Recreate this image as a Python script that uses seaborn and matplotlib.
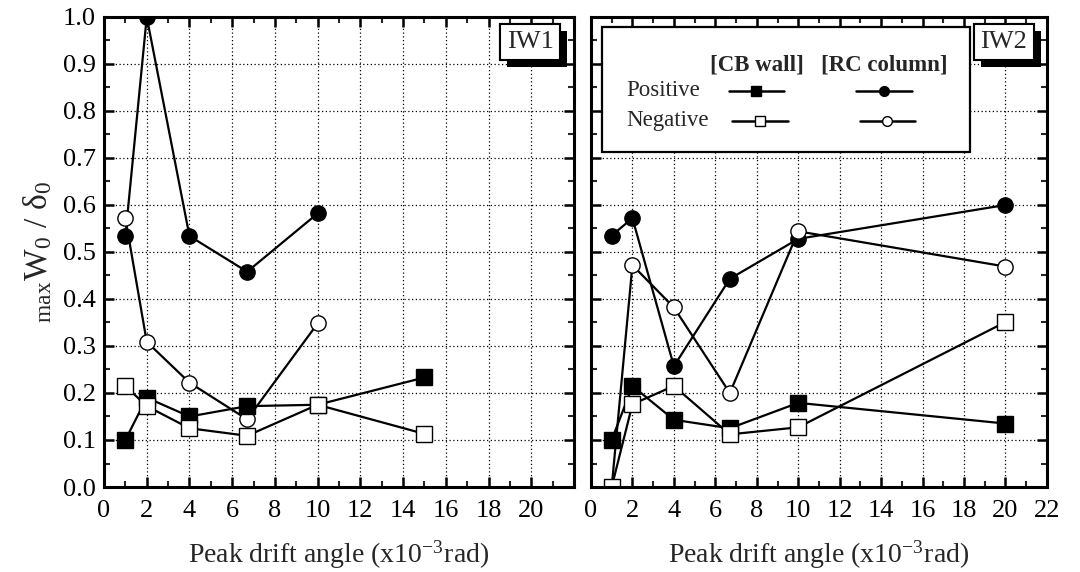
import numpy as np
import pandas as pd
import matplotlib
matplotlib.use("Agg")
import matplotlib.pyplot as plt
import matplotlib.patheffects as pe
from matplotlib.ticker import MultipleLocator, FormatStrFormatter, NullFormatter
import seaborn as sns

# DATA
#####################################################
drift_iw1 = [1, 2, 4, 6.7, 10, 15]
drift_iw1_rc = [1, 2, 4, 6.7, 10]
iw1_cb_pos = [0.100, 0.190, 0.150, 0.172, 0.175, 0.233]
iw1_cb_neg = [0.215, 0.172, 0.125, 0.109, 0.175, 0.113]
iw1_rc_pos = [0.534, 1.000, 0.534, 0.458, 0.582]
iw1_rc_neg = [0.572, 0.309, 0.222, 0.144, 0.348]

drift_iw2 = [1, 2, 4, 6.7, 10, 20]
iw2_cb_pos = [0.100, 0.215, 0.143, 0.125, 0.179, 0.135]
iw2_cb_neg = [0.000, 0.176, 0.215, 0.112, 0.127, 0.351]
iw2_rc_pos = [0.535, 0.572, 0.257, 0.443, 0.528, 0.600]
iw2_rc_neg = [0.000, 0.472, 0.382, 0.200, 0.544, 0.469]

panel_names = ["IW1", "IW2"]
row_labels = ["Positive", "Negative"]
col_labels = ["[CB wall]", "[RC column]"]

# STYLE
#####################################################
sns.set_style("ticks")
plt.rcParams['font.family'] = ['Liberation Serif', 'DejaVu Serif']
plt.rcParams['mathtext.fontset'] = 'stix'
plt.rcParams['xtick.direction'] = 'in'
plt.rcParams['ytick.direction'] = 'in'

fig = plt.figure(figsize=(10.8, 5.72), dpi=100)
ax1 = fig.add_axes([0.0963, 0.1486, 0.4352, 0.8217])
ax2 = fig.add_axes([0.5472, 0.1486, 0.4222, 0.8217])

styles = {
    "cb_pos": dict(marker='s', mfc='black'),
    "cb_neg": dict(marker='s', mfc='white'),
    "rc_pos": dict(marker='o', mfc='black'),
    "rc_neg": dict(marker='o', mfc='white'),
}


def draw(ax, x, y, key, ms=11):
    st = styles[key]
    sns.lineplot(x=x, y=y, ax=ax, color='black', lw=1.6, marker=st['marker'],
                 markersize=ms, markerfacecolor=st['mfc'], markeredgecolor='black',
                 markeredgewidth=1.0, sort=False, legend=False)


# IW1
draw(ax1, drift_iw1_rc, iw1_rc_pos, "rc_pos")
draw(ax1, drift_iw1_rc, iw1_rc_neg, "rc_neg")
draw(ax1, drift_iw1, iw1_cb_pos, "cb_pos")
draw(ax1, drift_iw1, iw1_cb_neg, "cb_neg")

# IW2
draw(ax2, drift_iw2, iw2_rc_pos, "rc_pos")
draw(ax2, drift_iw2, iw2_rc_neg, "rc_neg")
draw(ax2, drift_iw2, iw2_cb_pos, "cb_pos")
draw(ax2, drift_iw2, iw2_cb_neg, "cb_neg")

for ax, name in zip([ax1, ax2], panel_names):
    ax.set_xlim(0, 22)
    ax.set_ylim(0, 1.0)
    ax.xaxis.set_major_locator(MultipleLocator(2))
    ax.xaxis.set_minor_locator(MultipleLocator(1))
    ax.yaxis.set_major_locator(MultipleLocator(0.1))
    ax.yaxis.set_minor_locator(MultipleLocator(0.05))
    ax.grid(True, which='major', color='black', linestyle=(0, (1, 2)), lw=0.9)
    for sp in ax.spines.values():
        sp.set_visible(True)
        sp.set_linewidth(2.2)
        sp.set_color('black')
    ax.tick_params(which='major', length=7, width=1.8, top=True, right=True,
                   labelsize=19, colors='black')
    ax.tick_params(axis='x', which='major', pad=9)
    ax.tick_params(axis='y', which='major', pad=6)
    ax.tick_params(which='minor', length=4, width=1.5, top=True, right=True)
    ax.set_xlabel(r'Peak drift angle (x10$^{\mathregular{-3}}$rad)', fontsize=20, labelpad=12)
    t = ax.text(0.957, 0.97, name, transform=ax.transAxes, ha='right', va='top',
                fontsize=19, bbox=dict(boxstyle='square,pad=0.25', fc='white', ec='black', lw=1.5))
    t.get_bbox_patch().set_path_effects([pe.withSimplePatchShadow(offset=(5, -5), shadow_rgbFace='black', alpha=1.0), pe.Normal()])

ax1.set_xticks(np.arange(0, 21, 2))
ax1.yaxis.set_major_formatter(FormatStrFormatter('%.1f'))
ax2.set_xticks(np.arange(0, 23, 2))
ax2.yaxis.set_major_formatter(NullFormatter())
ax1.set_ylabel(r'$_{\mathregular{max}}$W$_\mathregular{0}$ / δ$_\mathregular{0}$', fontsize=24, labelpad=6)

# LEGEND (drawn by hand, table layout)
#####################################################
ax2.add_patch(plt.Rectangle((0.0235, 0.713), 0.8075, 0.266, transform=ax2.transAxes,
                            fc='white', ec='black', lw=1.6, zorder=5))
col_x = [0.363, 0.643]
row_y = [0.843, 0.779]
for cx, lab in zip(col_x, col_labels):
    ax2.text(cx, 0.898, lab, transform=ax2.transAxes, ha='center', va='center',
             fontsize=16.5, fontweight='bold', zorder=6)
for ry, lab in zip(row_y, row_labels):
    ax2.text(0.077, ry, lab, transform=ax2.transAxes, ha='left', va='center',
             fontsize=16.5, zorder=6)
legend_keys = [["cb_pos", "rc_pos"], ["cb_neg", "rc_neg"]]
legend_shift = [0.0, 0.007]
for ry, keys, dx in zip(row_y, legend_keys, legend_shift):
    for cx, key in zip(col_x, keys):
        st = styles[key]
        mx = cx + dx
        ax2.plot([mx - 0.061, mx + 0.061], [ry, ry], transform=ax2.transAxes,
                 color='black', lw=1.8, zorder=7)
        ax2.plot([mx], [ry], transform=ax2.transAxes, color='black',
                 marker=st['marker'], ms=7, mfc=st['mfc'], mec='black', mew=1.0,
                 zorder=8, clip_on=False)

fig.savefig("out.png", dpi=100)
